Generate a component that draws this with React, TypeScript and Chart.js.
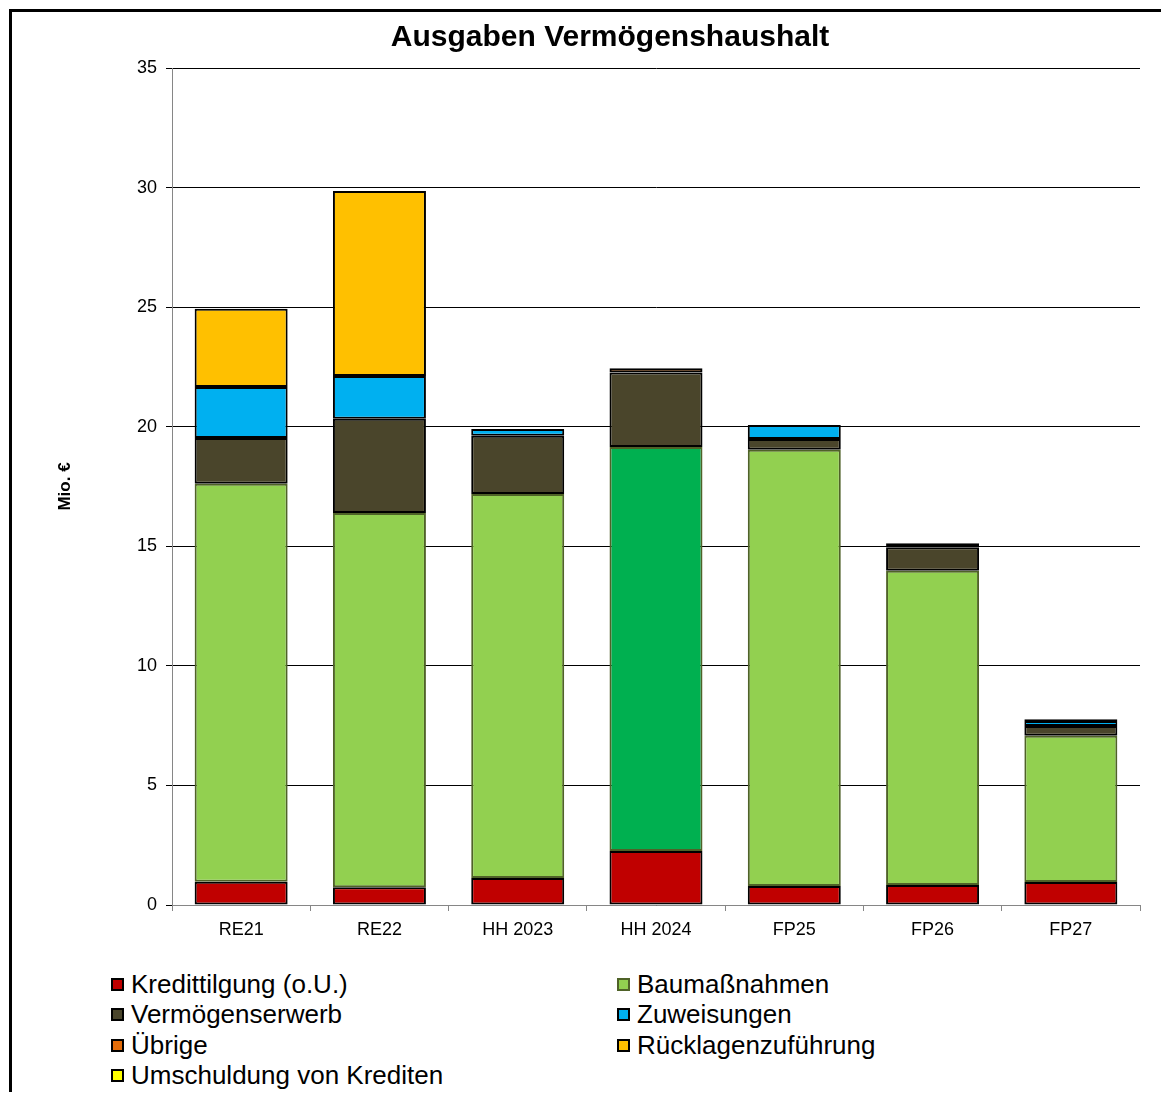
import React, { useEffect, useRef } from "react";
import { Chart, registerables } from "chart.js";

Chart.register(...registerables);

const FONT = "'Liberation Sans', Arial, sans-serif";

const categories = ["RE21", "RE22", "HH 2023", "HH 2024", "FP25", "FP26", "FP27"];
const kredittilgung = [0.97, 0.74, 1.13, 2.26, 0.79, 0.84, 0.96];
const baumassnahmen = [16.64, 15.65, 16.06, 16.89, 18.25, 13.14, 6.12];
const vermoegenserwerb = [1.92, 3.94, 2.43, 3.12, 0.45, 0.98, 0.41];
const zuweisungen = [2.13, 1.79, 0.28, 0, 0.585, 0.17, 0.2];
const uebrige = [0, 0, 0, 0.17, 0, 0, 0.08];
const ruecklagen = [3.27, 7.74, 0, 0, 0, 0, 0];
const umschuldung = [0, 0, 0, 0, 0, 0, 0];

const seriesNames = [
  "Kredittilgung (o.U.)",
  "Baumaßnahmen",
  "Vermögenserwerb",
  "Zuweisungen",
  "Übrige",
  "Rücklagenzuführung",
  "Umschuldung von Krediten",
];
const seriesValues = [kredittilgung, baumassnahmen, vermoegenserwerb, zuweisungen, uebrige, ruecklagen, umschuldung];
const seriesColors = ["#C00000", "#92D050", "#4A452B", "#00B0F0", "#E36C09", "#FFC000", "#FFFF00"];
const seriesBorders = ["#000000", "#4F6228", "#000000", "#000000", "#000000", "#000000", "#000000"];
const highlightCategory = "HH 2024";
const highlightBauColor = "#00B050";

const yMin = 0;
const yMax = 35;
const yStep = 5;

const titleText = "Ausgaben Vermögenshaushalt";
const yTitle = "Mio. €";

export default function App() {
  const canvasRef = useRef<HTMLCanvasElement | null>(null);

  useEffect(() => {
    if (!canvasRef.current) return;
    const datasets = seriesNames.map((name, i) => ({
      label: name,
      data: seriesValues[i],
      backgroundColor:
        i === 1
          ? categories.map((c) => (c === highlightCategory ? highlightBauColor : seriesColors[i]))
          : seriesColors[i],
      borderColor: seriesBorders[i],
      borderWidth: 2,
      borderSkipped: false as const,
      barPercentage: 0.6725,
      categoryPercentage: 1,
      yAxisID: "y",
    }));
    const chart = new Chart(canvasRef.current, {
      type: "bar",
      data: { labels: categories, datasets },
      options: {
        animation: false,
        responsive: false,
        maintainAspectRatio: false,
        layout: { padding: { left: 43, right: 0, top: 0, bottom: 0 } },
        plugins: {
          legend: { display: false },
          tooltip: { enabled: false },
          title: {
            display: true,
            text: titleText,
            color: "#000",
            font: { family: FONT, size: 30, weight: "bold" },
            padding: { top: 12, bottom: 12 },
          },
        },
        scales: {
          x: {
            stacked: true,
            offset: true,
            grid: {
              display: true,
              drawOnChartArea: false,
              drawTicks: true,
              tickLength: 6,
              offset: true,
              color: "#868686",
            },
            border: { display: true, color: "#868686", width: 1 },
            ticks: { color: "#000", font: { family: FONT, size: 18 }, padding: 8 },
            afterFit: (scale: any) => {
              scale.height = 55;
            },
          },
          y: {
            stacked: true,
            min: yMin,
            max: yMax,
            grid: { color: "#000", tickLength: 6, lineWidth: 1 },
            border: { display: true, color: "#868686", width: 1 },
            ticks: { stepSize: yStep, color: "#000", font: { family: FONT, size: 18 }, padding: 9 },
            title: {
              display: true,
              text: yTitle,
              color: "#000",
              font: { family: FONT, size: 17, weight: "bold" },
              padding: { top: 4, bottom: 0 },
            },
            afterFit: (scale: any) => {
              scale.width = 121;
            },
          },
          spacer: {
            type: "linear",
            position: "right",
            display: true,
            grid: { display: false, drawTicks: false },
            border: { display: false },
            ticks: { display: false },
            afterFit: (scale: any) => {
              scale.width = 29;
            },
          },
        },
      },
    });
    return () => chart.destroy();
  }, []);

  const legendRows = [984, 1014, 1045, 1075];
  const legendCols = [111, 617];

  return (
    <div style={{ position: "relative", width: 1161, height: 1084, overflow: "hidden", fontFamily: FONT }}>
      <div
        style={{
          position: "absolute",
          left: 1,
          top: 1,
          width: 1200,
          height: 1200,
          borderLeft: "3px solid #000",
          borderTop: "3px solid #000",
          boxSizing: "border-box",
        }}
      />
      <canvas ref={canvasRef} width={1161} height={952} style={{ position: "absolute", left: 0, top: 0 }} />
      {seriesNames.map((name, i) => {
        const row = Math.floor(i / 2);
        const col = i % 2;
        const cy = legendRows[row] - 8;
        const bx = legendCols[col] - 8;
        return (
          <div key={name} style={{ position: "absolute", left: bx, top: cy - 15, height: 30, display: "flex", alignItems: "center" }}>
            <div
              style={{
                width: 13,
                height: 13,
                boxSizing: "border-box",
                background: seriesColors[i],
                border: `2px solid ${i === 1 ? seriesBorders[i] : "#000"}`,
                marginRight: 7,
              }}
            />
            <span style={{ fontSize: 26, lineHeight: "30px", color: "#000", whiteSpace: "nowrap" }}>{name}</span>
          </div>
        );
      })}
    </div>
  );
}
